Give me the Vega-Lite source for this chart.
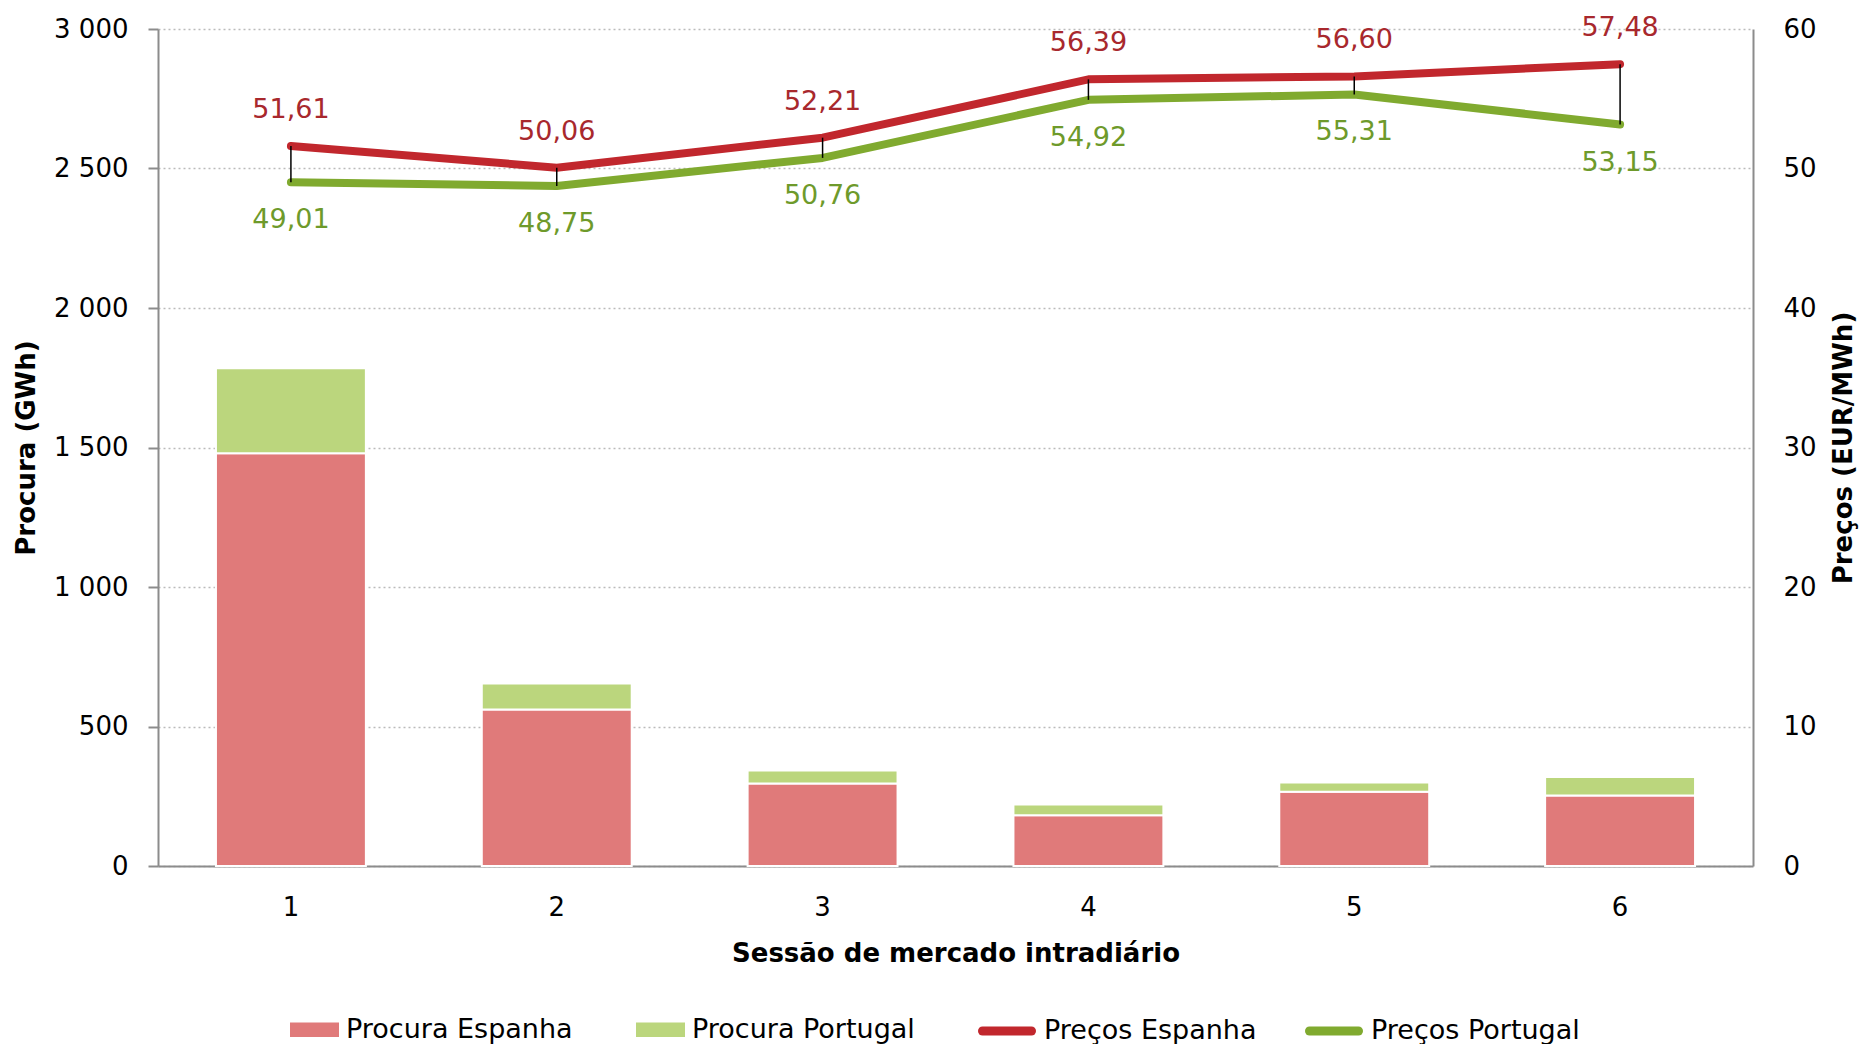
{
  "$schema": "https://vega.github.io/schema/vega-lite/v6.json",
  "width": 1595,
  "height": 837,
  "autosize": {"type": "none"},
  "padding": {"left": 158, "top": 29, "right": 111, "bottom": 178},
  "background": "white",
  "config": {
    "view": {"stroke": null},
    "font": "DejaVu Sans",
    "locale": {"number": {"decimal": ",", "thousands": " ", "grouping": [3], "currency": ["", " €"]}},
    "axis": {"labelFont": "DejaVu Sans", "labelFontSize": 26, "labelColor": "black", "titleFont": "DejaVu Sans", "titleFontSize": 26, "titleFontWeight": "bold", "titleColor": "black", "domainColor": "#8C8C8C", "domainWidth": 2, "tickColor": "#8C8C8C", "tickWidth": 2},
    "legend": {"labelFont": "DejaVu Sans", "labelFontSize": 27, "labelColor": "black", "labelLimit": 0}
  },
  "datasets": {
    "procura": [
      {"sessao": "1", "serie": "Procura Espanha", "gwh": 1479},
      {"sessao": "1", "serie": "Procura Portugal", "gwh": 305},
      {"sessao": "2", "serie": "Procura Espanha", "gwh": 561},
      {"sessao": "2", "serie": "Procura Portugal", "gwh": 93},
      {"sessao": "3", "serie": "Procura Espanha", "gwh": 296},
      {"sessao": "3", "serie": "Procura Portugal", "gwh": 46},
      {"sessao": "4", "serie": "Procura Espanha", "gwh": 182},
      {"sessao": "4", "serie": "Procura Portugal", "gwh": 38},
      {"sessao": "5", "serie": "Procura Espanha", "gwh": 266},
      {"sessao": "5", "serie": "Procura Portugal", "gwh": 33},
      {"sessao": "6", "serie": "Procura Espanha", "gwh": 253},
      {"sessao": "6", "serie": "Procura Portugal", "gwh": 66}
    ],
    "precos": [
      {"sessao": "1", "Preços Espanha": 51.61, "Preços Portugal": 49.01},
      {"sessao": "2", "Preços Espanha": 50.06, "Preços Portugal": 48.75},
      {"sessao": "3", "Preços Espanha": 52.21, "Preços Portugal": 50.76},
      {"sessao": "4", "Preços Espanha": 56.39, "Preços Portugal": 54.92},
      {"sessao": "5", "Preços Espanha": 56.60, "Preços Portugal": 55.31},
      {"sessao": "6", "Preços Espanha": 57.48, "Preços Portugal": 53.15}
    ]
  },
  "layer": [
    {
      "data": {"name": "procura"},
      "mark": {"type": "bar", "stroke": "white", "strokeWidth": 2},
      "encoding": {
        "x": {"field": "sessao", "type": "ordinal", "scale": {"paddingInner": 0.436, "paddingOuter": 0.218},
          "axis": {"title": "Sessão de mercado intradiário", "labelAngle": 0, "ticks": false, "labelPadding": 28, "titlePadding": 20}},
        "y": {"field": "gwh", "type": "quantitative", "stack": "zero", "scale": {"domain": [0, 3000], "nice": false},
          "axis": {"title": "Procura (GWh)", "format": ",d", "values": [0, 500, 1000, 1500, 2000, 2500, 3000], "tickSize": 10, "labelPadding": 20, "titlePadding": 14, "grid": true, "gridColor": "#BBBBBB", "gridDash": [2, 3], "gridWidth": 1.5}},
        "fill": {"field": "serie", "type": "nominal", "scale": {"domain": ["Procura Espanha", "Procura Portugal"], "range": ["#E07A7A", "#BBD67D"]},
          "legend": {"title": null, "orient": "none", "direction": "horizontal", "legendX": 132, "legendY": 976, "symbolType": "M-1,-0.3H1V0.3H-1Z", "symbolSize": 2401, "symbolStrokeWidth": 0, "labelOffset": 7, "columnPadding": 63}},
        "order": {"field": "serie", "sort": "ascending"}
      }
    },
    {
      "data": {"name": "precos"},
      "layer": [
        {
          "transform": [{"fold": ["Preços Espanha", "Preços Portugal"], "as": ["serie", "preco"]}],
          "mark": {"type": "line", "strokeWidth": 8, "strokeCap": "round", "strokeJoin": "round"},
          "encoding": {
            "x": {"field": "sessao", "type": "ordinal"},
            "y": {"field": "preco", "type": "quantitative", "scale": {"domain": [0, 60], "nice": false},
              "axis": {"title": "Preços (EUR/MWh)", "orient": "right", "values": [0, 10, 20, 30, 40, 50, 60], "ticks": false, "labelPadding": 30, "titlePadding": 40, "titleAngle": 270, "grid": false}},
            "stroke": {"field": "serie", "type": "nominal", "scale": {"domain": ["Preços Espanha", "Preços Portugal"], "range": ["#C1272D", "#80AA2F"]},
              "legend": {"title": null, "orient": "none", "direction": "horizontal", "legendX": 820, "legendY": 973, "symbolType": "stroke", "symbolSize": 2401, "symbolStrokeWidth": 9, "labelOffset": 8, "columnPadding": 34,
                "encode": {"symbols": {"update": {"stroke": {"scale": "stroke", "field": "value"}, "strokeWidth": {"value": 9}, "strokeCap": {"value": "round"}, "opacity": {"value": 1}}}}}}
          }
        },
        {
          "mark": {"type": "rule", "color": "black", "strokeWidth": 1.5},
          "encoding": {
            "x": {"field": "sessao", "type": "ordinal"},
            "y": {"field": "Preços Espanha", "type": "quantitative", "scale": {"domain": [0, 60], "nice": false},
              "axis": {"title": "Preços (EUR/MWh)", "orient": "right", "values": [0, 10, 20, 30, 40, 50, 60], "ticks": false, "labelPadding": 30, "titlePadding": 40, "titleAngle": 270, "grid": false}},
            "y2": {"field": "Preços Portugal"}
          }
        },
        {
          "mark": {"type": "text", "dy": -36, "fontSize": 27, "color": "#A8282D", "font": "DejaVu Sans"},
          "encoding": {
            "x": {"field": "sessao", "type": "ordinal"},
            "y": {"field": "Preços Espanha", "type": "quantitative", "scale": {"domain": [0, 60], "nice": false},
              "axis": {"title": "Preços (EUR/MWh)", "orient": "right", "values": [0, 10, 20, 30, 40, 50, 60], "ticks": false, "labelPadding": 30, "titlePadding": 40, "titleAngle": 270, "grid": false}},
            "text": {"field": "Preços Espanha", "type": "quantitative", "format": ".2f"}
          }
        },
        {
          "mark": {"type": "text", "dy": 38, "fontSize": 27, "color": "#6E9A2B", "font": "DejaVu Sans"},
          "encoding": {
            "x": {"field": "sessao", "type": "ordinal"},
            "y": {"field": "Preços Portugal", "type": "quantitative", "scale": {"domain": [0, 60], "nice": false},
              "axis": {"title": "Preços (EUR/MWh)", "orient": "right", "values": [0, 10, 20, 30, 40, 50, 60], "ticks": false, "labelPadding": 30, "titlePadding": 40, "titleAngle": 270, "grid": false}},
            "text": {"field": "Preços Portugal", "type": "quantitative", "format": ".2f"}
          }
        }
      ]
    }
  ],
  "resolve": {"scale": {"y": "independent"}, "axis": {"y": "independent"}}
}
